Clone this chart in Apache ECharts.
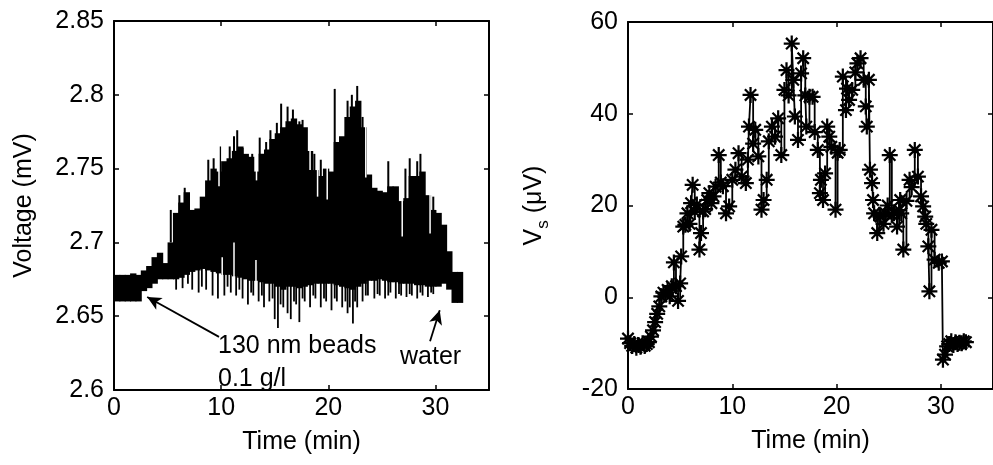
<!DOCTYPE html>
<html>
<head>
<meta charset="utf-8">
<script src="https://cdn.jsdelivr.net/npm/echarts@6/dist/echarts.min.js"></script>
<style>
html,body{margin:0;padding:0;background:#fff;}
#chart{width:993px;height:465px;}
</style>
</head>
<body>
<div id="chart"></div>
<script>
// ---------- Left panel: voltage trace ----------
// solid core of the trace, one block per 0.5 min
const coreTime = [0,0.5,1,1.5,2,2.5,3,3.5,4,4.5,5,5.5,6,6.5,7,7.5,8,8.5,9,9.5,10,10.5,11,11.5,12,12.5,13,13.5,14,14.5,15,15.5,16,16.5,17,17.5,18,18.5,19,19.5,20,20.5,21,21.5,22,22.5,23,23.5,24,24.5,25,25.5,26,26.5,27,27.5,28,28.5,29,29.5,30,30.5,31,31.5,32];
const coreUpper = [2.678,2.678,2.678,2.679,2.678,2.681,2.684,2.690,2.693,2.686,
2.700,2.720,2.727,2.734,2.722,2.723,2.731,2.742,2.750,2.748,
2.755,2.757,2.762,2.765,2.760,2.758,2.748,2.760,2.763,2.770,
2.774,2.778,2.782,2.784,2.780,2.778,2.762,2.749,2.745,2.750,
2.748,2.768,2.772,2.785,2.792,2.796,2.778,2.746,2.737,2.735,
2.734,2.738,2.738,2.728,2.730,2.745,2.745,2.748,2.732,2.722,
2.720,2.712,2.694,2.680,2.680];
const coreLower = [2.660,2.660,2.660,2.660,2.660,2.667,2.669,2.672,2.675,2.675,
2.675,2.675,2.676,2.678,2.680,2.681,2.682,2.681,2.680,2.679,
2.678,2.678,2.677,2.676,2.675,2.674,2.674,2.673,2.672,2.672,
2.670,2.668,2.670,2.670,2.669,2.670,2.671,2.672,2.672,2.672,
2.672,2.671,2.670,2.669,2.668,2.670,2.672,2.674,2.674,2.675,
2.674,2.673,2.673,2.672,2.672,2.672,2.671,2.671,2.670,2.670,
2.670,2.672,2.668,2.659,2.659];
// narrow upward excursions
const spikeUpTime = [5.3,6.1,6.6,8.8,9.3,9.9,10.8,11.2,11.5,12.0,12.9,13.6,14.2,14.6,15.2,15.6,16.2,16.7,17.3,17.6,18.7,19.3,20.6,21.8,22.2,22.7,23.2,25.6,27.2,27.6,28.3,28.6,29.8];
const spikeUpValue = [2.722,2.732,2.737,2.756,2.757,2.765,2.765,2.772,2.776,2.764,2.760,2.771,2.768,2.776,2.781,2.794,2.792,2.790,2.782,2.783,2.760,2.756,2.804,2.796,2.800,2.806,2.785,2.755,2.750,2.757,2.755,2.760,2.731];
// narrow downward excursions
const spikeDownTime = [5.8,6.4,7.3,7.9,8.6,9.2,9.7,10.3,10.9,11.4,12.0,12.5,13.0,13.5,14.0,14.5,15.0,15.3,15.8,16.2,16.5,17.0,17.3,17.8,18.3,18.8,19.3,19.8,20.3,20.8,21.3,21.8,22.3,22.7,23.2,23.7,24.3,24.8,25.3,25.8,26.3,26.8,27.3,27.8,28.3,28.8,29.3,29.8,
6.9,8.2,10.6,11.7,12.8,13.8,14.8,15.55,16.8,17.6,18.6,19.6,20.6,21.6,22.0,22.5,23.5,24.6,25.6,26.6,27.6,28.6,29.6];
const spikeDownValue = [2.668,2.669,2.668,2.666,2.668,2.664,2.662,2.664,2.666,2.664,2.662,2.658,2.664,2.660,2.656,2.660,2.648,2.642,2.656,2.652,2.648,2.658,2.646,2.660,2.656,2.662,2.656,2.660,2.654,2.660,2.656,2.652,2.645,2.656,2.660,2.664,2.662,2.664,2.662,2.666,2.662,2.664,2.663,2.664,2.662,2.664,2.663,2.665,
2.672,2.670,2.670,2.668,2.666,2.664,2.662,2.658,2.660,2.662,2.664,2.662,2.662,2.660,2.656,2.660,2.664,2.665,2.664,2.665,2.665,2.666,2.666];
// narrow gaps cutting into the trace from above / below
const gapTopTime = [9.8,13.3,18.3,19.0,19.9,23.5,26.9,29.5];
const gapTopValue = [2.738,2.742,2.749,2.731,2.729,2.744,2.704,2.706];
const gapBottomTime = [10.1,11.2,13.25];
const gapBottomValue = [2.690,2.700,2.688];
const leftXTicks = [0, 10, 20, 30];
const leftYTicks = [2.6, 2.65, 2.7, 2.75, 2.8, 2.85];

// ---------- Right panel: Vs vs time ----------
const rightTime = [0,0.2,0.4,0.6,0.8,1.0,1.2,1.4,1.6,1.8,2.0,2.2,2.4,2.6,2.8,3.0,3.2,3.4,3.6,3.8,4.0,
4.2,4.4,4.6,4.8,5.0,5.1,5.3,5.5,5.7,5.9,6.05,6.2,6.4,6.6,6.85,7.0,7.2,7.4,7.6,7.8,
8.0,8.2,8.4,8.7,8.9,9.1,9.4,9.7,10.0,10.3,10.6,10.9,11.3,11.5,11.6,11.75,12.0,12.2,12.5,12.8,
13.0,13.3,13.5,13.8,14.1,14.4,14.7,15.0,15.2,15.4,15.7,15.85,16.0,16.3,16.6,16.8,
17.0,17.1,17.4,17.7,17.9,18.2,18.4,18.5,18.7,18.9,19.1,19.3,19.5,19.9,20.1,20.3,20.6,20.9,
21.0,21.2,21.5,21.8,22.0,22.3,22.6,22.8,22.9,23.1,23.2,23.4,23.5,23.6,23.9,
24.1,24.2,24.5,24.7,24.9,25.1,25.3,25.5,25.8,26.0,26.1,26.2,26.4,26.7,27.0,27.2,27.5,27.8,
28.1,28.3,28.5,28.6,28.8,28.9,29.1,29.4,29.8,30.1,30.2,30.4,30.6,30.8,31.0,31.2,31.4,31.6,31.8,32.0,32.2,32.4];
const rightVs = [-9.0,-10.0,-10.6,-10.2,-11.0,-10.4,-10.8,-10.0,-10.6,-10.2,-9.8,-8.6,-7.2,-5.4,-3.6,-2.0,0.2,1.0,0.6,1.6,0.2,
2.4,7.6,2.4,-0.8,3.0,8.9,15.4,15.8,18.3,16.0,20.5,24.5,18.6,20.2,10.4,14.0,18.7,19.2,21.2,22.7,
20.5,22.0,24.1,31.0,25.0,24.2,18.3,19.8,25.6,27.8,31.4,26.3,24.9,30.0,37.2,44.1,33.5,36.5,30.7,19.1,
21.2,25.6,34.0,37.2,35.0,39.0,31.0,45.2,49.5,44.0,55.3,47.4,39.4,34.3,48.8,52.1,
44.0,37.2,43.7,43.7,36.0,32.1,22.7,25.6,21.2,27.0,37.2,35.0,32.8,19.1,31.5,32.1,48.1,40.8,
45.5,43.0,45.2,49.0,51.0,52.1,47.4,41.6,37.2,47.4,27.8,24.9,21.2,18.3,14.0,
18.0,17.6,16.0,18.3,20.0,31.0,18.0,18.3,15.4,19.0,21.2,18.3,10.4,21.0,25.6,24.0,32.1,26.3,
22.0,19.8,17.6,16.0,11.1,1.3,14.7,8.2,7.5,7.8,-13.6,-12.5,-10.7,-10.2,-9.6,-10.4,-9.8,-10.2,-9.9,-10.0,-9.6,-9.8];
const rightXTicks = [0, 10, 20, 30];
const rightYTicks = [-20, 0, 20, 40, 60];

// ---------- build ----------
const FONT = 'Liberation Sans, Arial, sans-serif';
const FS = 25;
const coreData = coreTime.map((t, i) => {
  const next = i < coreTime.length - 1 ? coreTime[i + 1] : t + (t - coreTime[i - 1]);
  return [t, coreLower[i], coreUpper[i], next];
});
// vertical strokes: [time, from, to]
const upData = spikeUpTime.map((t, i) => [t, 2.70, spikeUpValue[i]]);
const downData = spikeDownTime.map((t, i) => [t, 2.69, spikeDownValue[i]]);
const gapTopData = gapTopTime.map((t, i) => [t, 2.83, gapTopValue[i]]);
const gapBotData = gapBottomTime.map((t, i) => [t, 2.645, gapBottomValue[i]]);
const rightData = rightTime.map((t, i) => [t, rightVs[i]]);

const STAR = 'path://M0,8.6L20,8.6L20,11.4L0,11.4Z M8.6,0L11.4,0L11.4,20L8.6,20Z M3.92,1.94L18.06,16.08L16.08,18.06L1.94,3.92Z M18.06,3.92L3.92,18.06L1.94,16.08L16.08,1.94Z';

function strokeSeries(data, color, width) {
  return {
    type: 'custom', xAxisIndex: 0, yAxisIndex: 0, silent: true, data: data,
    renderItem: function (params, api) {
      const a = api.coord([api.value(0), api.value(1)]);
      const b = api.coord([api.value(0), api.value(2)]);
      return { type: 'line', shape: { x1: a[0], y1: a[1], x2: b[0], y2: b[1] },
               style: { stroke: color, lineWidth: width } };
    }
  };
}

function tickLabels(ticks) {
  return function (v) {
    for (let i = 0; i < ticks.length; i++) if (Math.abs(ticks[i] - v) < 1e-9) return String(ticks[i]);
    return '';
  };
}

function axisX(grid, min, max, interval, pos, labels, name, ticks) {
  return {
    type: 'value', gridIndex: grid, min: min, max: max, interval: interval, position: pos,
    axisLine: { show: true, onZero: false, lineStyle: { color: '#000', width: 2 } },
    axisTick: { show: true, inside: true, length: 5, lineStyle: { color: '#000', width: 1.5 } },
    axisLabel: { show: labels, color: '#000', fontFamily: FONT, fontSize: FS, margin: 6,
                 formatter: ticks ? tickLabels(ticks) : undefined, showMaxLabel: false },
    splitLine: { show: false },
    name: name || '', nameLocation: 'middle', nameGap: 40,
    nameTextStyle: { color: '#000', fontFamily: FONT, fontSize: FS }
  };
}
function axisY(grid, min, max, interval, pos, labels, name, gap, rich, ticks) {
  const o = {
    type: 'value', gridIndex: grid, min: min, max: max, interval: interval, position: pos,
    axisLine: { show: true, onZero: false, lineStyle: { color: '#000', width: 2 } },
    axisTick: { show: true, inside: true, length: 5, lineStyle: { color: '#000', width: 1.5 } },
    axisLabel: { show: labels, color: '#000', fontFamily: FONT, fontSize: FS, margin: 10,
                 formatter: ticks ? tickLabels(ticks) : undefined },
    splitLine: { show: false },
    name: name || '', nameLocation: 'middle', nameGap: gap || 0,
    nameTextStyle: { color: '#000', fontFamily: FONT, fontSize: FS }
  };
  if (rich) o.nameTextStyle.rich = rich;
  return o;
}

const chart = echarts.init(document.getElementById('chart'), null, { renderer: 'canvas' });
chart.setOption({
  animation: false,
  backgroundColor: '#fff',
  grid: [
    { left: 114, top: 21, width: 375, height: 369, show: false },
    { left: 628, top: 22, width: 368, height: 367, show: false }
  ],
  xAxis: [
    axisX(0, 0, 35, 10, 'bottom', true, 'Time (min)', leftXTicks),
    axisX(0, 0, 35, 10, 'top', false),
    axisX(1, 0, 35, 10, 'bottom', true, 'Time (min)', rightXTicks),
    axisX(1, 0, 35, 10, 'top', false)
  ],
  yAxis: [
    axisY(0, 2.6, 2.85, 0.05, 'left', true, 'Voltage (mV)', 77, null, leftYTicks),
    axisY(0, 2.6, 2.85, 0.05, 'right', false),
    axisY(1, -20, 60, 20, 'left', true, '{v|V}{s|s}{v| (μV)}', 76, {
      v: { fontFamily: FONT, fontSize: FS, color: '#000', lineHeight: 30, verticalAlign: 'top' },
      s: { fontFamily: FONT, fontSize: 17, color: '#000', lineHeight: 17, verticalAlign: 'bottom' }
    }, rightYTicks),
    axisY(1, -20, 60, 20, 'right', false)
  ],
  series: [
    {
      type: 'custom', xAxisIndex: 0, yAxisIndex: 0, silent: true,
      data: coreData,
      renderItem: function (params, api) {
        const p1 = api.coord([api.value(0), api.value(2)]);
        const p2 = api.coord([api.value(3), api.value(1)]);
        return { type: 'rect', shape: { x: p1[0], y: p1[1], width: p2[0] - p1[0] + 1, height: p2[1] - p1[1] },
                 style: { fill: '#000' } };
      }
    },
    strokeSeries(upData, '#000', 2),
    strokeSeries(downData, '#000', 1.8),
    strokeSeries(gapTopData, '#fff', 1.5),
    strokeSeries(gapBotData, '#fff', 1.5),
    {
      type: 'line', xAxisIndex: 0, yAxisIndex: 0, data: [], silent: true,
      markLine: {
        silent: true, animation: false,
        symbol: ['none', 'arrow'], symbolSize: [10, 14],
        label: { show: false },
        lineStyle: { color: '#000', width: 1.8, type: 'solid' },
        data: [
          [{ coord: [9.8, 2.636] }, { coord: [3.1, 2.663] }],
          [{ coord: [29.5, 2.633] }, { coord: [30.4, 2.654] }]
        ]
      }
    },
    {
      type: 'line', xAxisIndex: 2, yAxisIndex: 2, data: rightData, silent: true,
      step: 'end',
      symbol: STAR, symbolSize: 16, showSymbol: true, showAllSymbol: true,
      itemStyle: { color: '#000' },
      lineStyle: { color: '#000', width: 1.8 }
    }
  ],
  graphic: [
    { type: 'text', z: 100, left: 218, top: 334, style: { text: '130 nm beads', font: FS + 'px ' + FONT, fill: '#000' } },
    { type: 'text', z: 100, left: 218, top: 367, style: { text: '0.1 g/l', font: FS + 'px ' + FONT, fill: '#000' } },
    { type: 'text', z: 100, left: 400, top: 345, style: { text: 'water', font: FS + 'px ' + FONT, fill: '#000' } }
  ]
});
</script>
</body>
</html>
